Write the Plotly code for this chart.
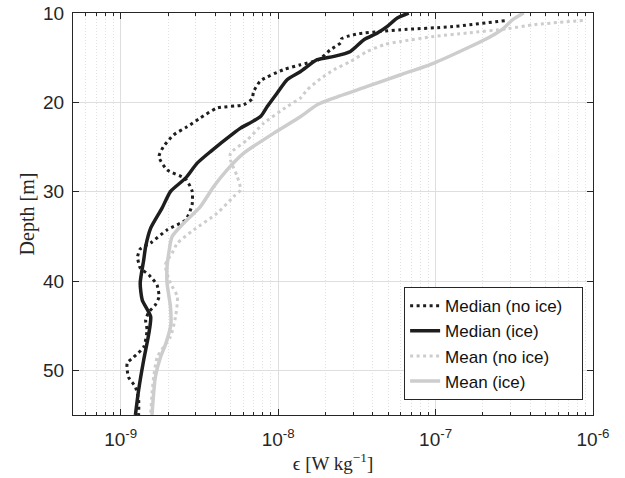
import plotly.graph_objects as go

# ---- data ----
median_noice_depth = [10.86, 11.54, 11.87, 12.06, 12.32, 12.62, 12.88, 13.33, 14.11, 15.23, 15.79, 16.35,
                      17.59, 18.82, 19.6, 20.27, 20.64, 21.73, 22.74, 23.64, 24.95, 26.10, 27.56, 28.57,
                      29.91, 31.48, 33.16, 34.28, 35.74, 36.41, 37.31, 37.98, 38.54, 39.32, 40.44, 41.79,
                      42.68, 43.47, 44.36, 45.48, 47.39, 48.51, 49.18, 50.75, 51.87, 53.33, 55.0]
median_noice_eps = [2.75e-7, 1.25e-7, 6.00e-8, 4.48e-8, 3.24e-8, 2.75e-8, 2.53e-8, 2.49e-8, 2.15e-8, 1.81e-8,
                    1.39e-8, 1.08e-8, 7.73e-9, 6.98e-9, 6.84e-9, 6.03e-9, 4.10e-9, 3.21e-9, 2.64e-9, 2.17e-9,
                    1.87e-9, 1.75e-9, 1.97e-9, 2.58e-9, 2.84e-9, 2.84e-9, 2.58e-9, 1.97e-9, 1.55e-9, 1.33e-9,
                    1.28e-9, 1.30e-9, 1.33e-9, 1.51e-9, 1.70e-9, 1.75e-9, 1.66e-9, 1.51e-9, 1.44e-9, 1.47e-9,
                    1.40e-9, 1.21e-9, 1.10e-9, 1.12e-9, 1.24e-9, 1.30e-9, 1.30e-9]

median_ice_depth = [10.0, 10.56, 11.5, 12.24, 12.99, 14.30, 14.86, 15.23, 16.54, 17.47, 18.96, 20.47, 21.59,
                    22.89, 23.45, 25.51, 26.81, 28.49, 29.99, 31.85, 34.09, 36.15, 37.64, 40.25, 42.12,
                    43.99, 45.85, 48.84, 52.2, 55.0]
median_ice_eps = [6.75e-8, 5.71e-8, 4.94e-8, 4.27e-8, 3.51e-8, 2.88e-8, 2.26e-8, 1.77e-8, 1.39e-8, 1.14e-8,
                  9.86e-9, 8.53e-9, 7.73e-9, 5.77e-9, 5.22e-9, 3.72e-9, 3.06e-9, 2.58e-9, 2.07e-9, 1.83e-9,
                  1.55e-9, 1.44e-9, 1.40e-9, 1.33e-9, 1.37e-9, 1.55e-9, 1.51e-9, 1.40e-9, 1.30e-9, 1.24e-9]

mean_noice_depth = [10.83, 11.31, 11.76, 12.24, 12.62, 13.18, 13.55, 14.30, 15.42, 16.35, 17.36, 18.59,
                    19.49, 20.47, 22.33, 24.20, 25.69, 26.44, 28.31, 29.80, 30.55, 32.41, 34.28, 35.77,
                    36.89, 38.20, 40.25, 41.75, 43.99, 46.24, 48.48, 50.72, 52.58, 55.0]
mean_noice_eps = [8.61e-7, 4.23e-7, 2.86e-7, 1.59e-7, 9.77e-8, 6.00e-8, 4.70e-8, 3.68e-8, 2.88e-8, 2.26e-8,
                  1.86e-8, 1.53e-8, 1.39e-8, 1.14e-8, 8.11e-9, 6.37e-9, 4.98e-9, 4.98e-9, 5.50e-9, 5.77e-9,
                  5.22e-9, 4.10e-9, 2.91e-9, 2.29e-9, 2.12e-9, 1.92e-9, 2.07e-9, 2.29e-9, 2.23e-9, 2.07e-9,
                  1.71e-9, 1.62e-9, 1.58e-9, 1.55e-9]

mean_ice_depth = [10.0, 10.75, 11.68, 12.62, 13.92, 15.60, 16.91, 18.22, 19.52, 20.27, 21.59, 23.45, 25.69,
                  27.56, 29.43, 31.67, 33.53, 35.03, 36.89, 38.39, 40.25, 42.87, 44.93, 47.17, 48.51,
                  50.75, 55.0]
mean_ice_eps = [3.63e-7, 3.09e-7, 2.72e-7, 2.24e-7, 1.59e-7, 9.77e-8, 6.00e-8, 3.68e-8, 2.26e-8, 1.77e-8,
                1.39e-8, 9.40e-9, 6.05e-9, 4.74e-9, 3.90e-9, 3.21e-9, 2.51e-9, 2.12e-9, 2.02e-9, 1.97e-9,
                1.97e-9, 2.07e-9, 2.08e-9, 1.92e-9, 1.79e-9, 1.66e-9, 1.58e-9]

series_names = ["Median (no ice)", "Median (ice)", "Mean (no ice)", "Mean (ice)"]
x_major_ticks = [1e-9, 1e-8, 1e-7, 1e-6]
x_tick_labels = ["10<sup>-9</sup>", "10<sup>-8</sup>", "10<sup>-7</sup>", "10<sup>-6</sup>"]
y_ticks = [10, 20, 30, 40, 50]

# ---- styling ----
BLACK = "#1e1e1e"
GREY = "#cdcdcd"
AXC = "#262626"
SANS = "Liberation Sans, Arial, sans-serif"
SERIF = "Liberation Serif, Times New Roman, serif"

minor_vals = []
for e in range(-10, -6):
    for m in range(2, 10):
        v = m * 10.0 ** e
        if 4.9e-10 < v < 1.01e-6:
            minor_vals.append(v)

DOT = "3px,3.5px"
PAD = "\u00a0\u00a0\u00a0"
fig = go.Figure()
fig.add_trace(go.Scatter(x=median_noice_eps, y=median_noice_depth, mode="lines", name=series_names[0] + PAD,
                         line=dict(color=BLACK, width=3, dash=DOT, shape="spline", smoothing=0.6)))
fig.add_trace(go.Scatter(x=median_ice_eps, y=median_ice_depth, mode="lines", name=series_names[1],
                         line=dict(color=BLACK, width=3.5, shape="spline", smoothing=0.6)))
fig.add_trace(go.Scatter(x=mean_noice_eps, y=mean_noice_depth, mode="lines", name=series_names[2],
                         line=dict(color=GREY, width=3, dash=DOT, shape="spline", smoothing=0.6)))
fig.add_trace(go.Scatter(x=mean_ice_eps, y=mean_ice_depth, mode="lines", name=series_names[3],
                         line=dict(color=GREY, width=3.5, shape="spline", smoothing=0.6)))

fig.update_layout(
    width=625, height=478,
    margin=dict(l=73, r=32, t=13, b=63, autoexpand=False),
    paper_bgcolor="white", plot_bgcolor="white",
    font=dict(family=SANS, size=19, color=AXC),
    showlegend=True,
    legend=dict(x=0.981, y=0.037, xanchor="right", yanchor="bottom",
                bgcolor="white", bordercolor=AXC, borderwidth=1,
                font=dict(family=SANS, size=17, color="#111111"),
                tracegroupgap=0, itemwidth=30),
)

fig.update_xaxes(
    type="log", range=[-9.303, -6.0], automargin=False,
    tickmode="array", tickvals=x_major_ticks, ticktext=x_tick_labels,
    ticks="inside", ticklen=6, tickcolor=AXC, tickwidth=1,
    showline=True, linecolor=AXC, linewidth=1.2, mirror="allticks",
    showgrid=True, gridcolor="#dedede", gridwidth=1,
    zeroline=False,
    minor=dict(tickmode="array", tickvals=minor_vals, ticks="inside", ticklen=3,
               tickcolor=AXC, showgrid=True, gridcolor="#e2e2e2", griddash="1px,2px", gridwidth=1),
    tickfont=dict(family=SANS, size=19, color=AXC),
    ticklabelstandoff=7,
    title=dict(text="\u03f5 [W kg<sup>\u22121</sup>]", font=dict(family=SERIF, size=19, color=AXC), standoff=5),
)
fig.update_yaxes(
    range=[55, 10], automargin=False,
    tickmode="array", tickvals=y_ticks,
    ticks="inside", ticklen=6, tickcolor=AXC, tickwidth=1,
    showline=True, linecolor=AXC, linewidth=1.2, mirror="allticks",
    showgrid=True, gridcolor="#dedede", gridwidth=1,
    zeroline=False,
    tickfont=dict(family=SANS, size=19, color=AXC),
    ticklabelstandoff=4,
    title=dict(text="Depth [m]", font=dict(family=SERIF, size=20, color=AXC), standoff=2),
)

fig.write_html("out.html", config={"displayModeBar": False},
               post_script="document.body.style.margin='0';")
